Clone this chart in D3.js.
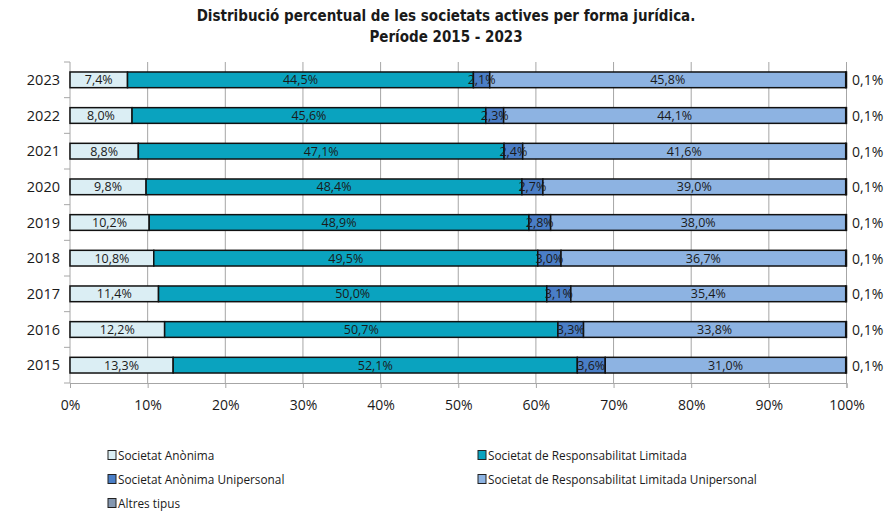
<!DOCTYPE html>
<html>
<head>
<meta charset="utf-8">
<script src="https://cdn.jsdelivr.net/npm/d3@7"></script>
<style>
  body { margin: 0; background: #fff; }
  text { fill: #1a1a1a; }
</style>
</head>
<body>
<div id="chart"></div>
<script>
// Distribució percentual de les societats actives per forma jurídica
const years = ["2015", "2016", "2017", "2018", "2019", "2020", "2021", "2022", "2023"];
const seriesNames = [
  "Societat Anònima",
  "Societat de Responsabilitat Limitada",
  "Societat Anònima Unipersonal",
  "Societat de Responsabilitat Limitada Unipersonal",
  "Altres tipus"
];
const sa   = [13.3, 12.2, 11.4, 10.8, 10.2, 9.8, 8.8, 8.0, 7.4];
const srl  = [52.1, 50.7, 50.0, 49.5, 48.9, 48.4, 47.1, 45.6, 44.5];
const sau  = [3.6, 3.3, 3.1, 3.0, 2.8, 2.7, 2.4, 2.3, 2.1];
const srlu = [31.0, 33.8, 35.4, 36.7, 38.0, 39.0, 41.6, 44.1, 45.8];
const altres = [0.1, 0.1, 0.1, 0.1, 0.1, 0.1, 0.1, 0.1, 0.1];
const xTicks = [0, 10, 20, 30, 40, 50, 60, 70, 80, 90, 100];
const colors = ["#dbeef4", "#0aa3bf", "#4a7ec6", "#8db3e2", "#8497b0"];

const width = 891, height = 513;
const margin = {top: 62, right: 44, bottom: 130, left: 70};
const valFont = "'Open Sans', 'Noto Sans', sans-serif";
const narrowFont = "'Liberation Sans Narrow', 'DejaVu Sans Condensed', sans-serif";

const rows = years.map((y, i) => ({
  year: y, s0: sa[i], s1: srl[i], s2: sau[i], s3: srlu[i], s4: altres[i]
}));
const keys = ["s0", "s1", "s2", "s3", "s4"];

const svg = d3.select("#chart").append("svg")
  .attr("width", width).attr("height", height);

// title
svg.append("text").attr("x", 446).attr("y", 21).attr("text-anchor", "middle")
  .attr("font-family", narrowFont).attr("font-weight", "bold").attr("font-size", 15)
  .text("Distribució  percentual de les societats actives per forma jurídica.");
svg.append("text").attr("x", 446).attr("y", 42).attr("text-anchor", "middle")
  .attr("font-family", narrowFont).attr("font-weight", "bold").attr("font-size", 15)
  .text("Període 2015 - 2023");

const x = d3.scaleLinear().domain([0, 1]).range([margin.left, width - margin.right - 0.5]);
const y = d3.scaleBand().domain(years.slice().reverse())
  .range([margin.top, height - margin.bottom]).paddingInner(0.56).paddingOuter(0.28);

// grid
svg.append("g").selectAll("line").data(xTicks.slice(1)).join("line")
  .attr("x1", d => x(d / 100)).attr("x2", d => x(d / 100))
  .attr("y1", margin.top).attr("y2", height - margin.bottom)
  .attr("stroke", "#a6a6a6").attr("stroke-width", 1);

// x axis
const xAxis = svg.append("g").attr("transform", `translate(0,${height - margin.bottom})`)
  .call(d3.axisBottom(x).tickValues(xTicks.map(d => d / 100)).tickFormat(d => Math.round(d * 100) + "%")
    .tickSize(5).tickPadding(12));
xAxis.select(".domain").attr("stroke", "#a6a6a6");
xAxis.selectAll(".tick line").attr("stroke", "#a6a6a6");
xAxis.selectAll("text").attr("font-family", valFont).attr("font-size", 14).attr("fill", "#1a1a1a");

// y axis
const step = y.step();
const bounds = d3.range(years.length + 1).map(i => margin.top + i * step);
svg.append("line").attr("x1", margin.left).attr("x2", margin.left)
  .attr("y1", margin.top).attr("y2", height - margin.bottom).attr("stroke", "#a6a6a6");
svg.append("g").selectAll("line").data(bounds).join("line")
  .attr("x1", margin.left - 6).attr("x2", margin.left).attr("y1", d => d).attr("y2", d => d)
  .attr("stroke", "#a6a6a6");
svg.append("g").selectAll("text").data(years).join("text")
  .attr("x", margin.left - 10).attr("y", d => y(d) + y.bandwidth() / 2 + 5)
  .attr("text-anchor", "end").attr("font-family", valFont).attr("font-size", 14.5)
  .text(d => d);

// stacked bars (100% stacked)
const stack = d3.stack().keys(keys).offset(d3.stackOffsetExpand);
const series = stack(rows);

const layers = svg.append("g").selectAll("g").data(series).join("g")
  .attr("fill", (d, i) => colors[i]);
layers.selectAll("rect").data(d => d).join("rect")
  .attr("x", d => x(d[0])).attr("width", d => x(d[1]) - x(d[0]))
  .attr("y", d => y(d.data.year)).attr("height", y.bandwidth())
  .attr("stroke", "#111").attr("stroke-width", 1.5);

// value labels
series.forEach((s, i) => {
  const g = svg.append("g");
  if (i < 4) {
    g.selectAll("text").data(s).join("text")
      .attr("x", d => (x(d[0]) + x(d[1])) / 2)
      .attr("y", d => y(d.data.year) + y.bandwidth() / 2 + 4.5)
      .attr("text-anchor", "middle").attr("font-family", valFont).attr("font-size", 12.5)
      .text(d => d.data[keys[i]].toFixed(1).replace(".", ",") + "%");
  } else {
    g.selectAll("text").data(s).join("text")
      .attr("x", width - margin.right + 5)
      .attr("y", d => y(d.data.year) + y.bandwidth() / 2 + 5.5)
      .attr("font-family", valFont).attr("font-size", 14)
      .text(d => d.data[keys[i]].toFixed(1).replace(".", ",") + "%");
  }
});

// legend
const legendPos = [[108, 455], [478, 455], [108, 479], [478, 479], [108, 503]];
const legend = svg.append("g");
seriesNames.forEach((name, i) => {
  const [lx, ly] = legendPos[i];
  legend.append("rect").attr("x", lx).attr("y", ly - 4.5).attr("width", 8).attr("height", 9)
    .attr("fill", colors[i]).attr("stroke", "#222").attr("stroke-width", 1);
  legend.append("text").attr("x", lx + 10).attr("y", ly + 4.5)
    .attr("font-family", valFont).attr("font-size", 11.8).text(name);
});
</script>
</body>
</html>
